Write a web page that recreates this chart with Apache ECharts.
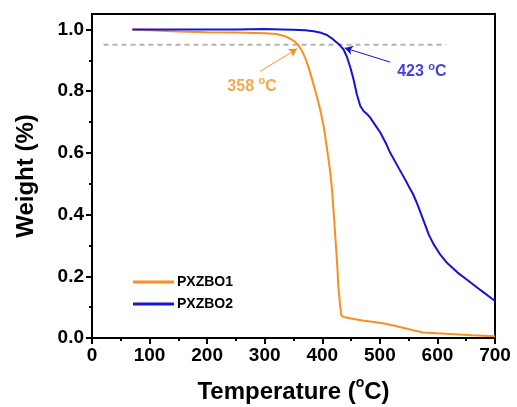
<!DOCTYPE html>
<html>
<head>
<meta charset="utf-8">
<script src="https://cdn.jsdelivr.net/npm/echarts@6/dist/echarts.min.js"></script>
<style>html,body{margin:0;padding:0;background:#fff}#c{width:517px;height:407px}</style>
</head>
<body>
<div id="c"></div>
<script>
const seriesNames = ['PXZBO1', 'PXZBO2'];
const tempPXZBO1 = [70, 100, 150, 200, 250, 300, 320, 335, 345, 352, 358, 365, 372, 379, 385, 391, 397, 403, 408, 413, 417, 420, 423, 426, 428, 431, 433, 437, 450, 470, 490, 505, 520, 540, 560, 575, 600, 630, 660, 700];
const weightPXZBO1 = [1.0, 0.997, 0.993, 0.991, 0.99, 0.988, 0.985, 0.978, 0.969, 0.961, 0.95, 0.93, 0.9, 0.86, 0.82, 0.78, 0.735, 0.68, 0.615, 0.55, 0.48, 0.4, 0.318, 0.235, 0.165, 0.105, 0.074, 0.068, 0.063, 0.057, 0.052, 0.048, 0.042, 0.033, 0.024, 0.018, 0.015, 0.012, 0.009, 0.006];
const tempPXZBO2 = [70, 150, 250, 300, 330, 350, 370, 385, 398, 408, 416, 423, 430, 437, 443, 449, 454, 460, 466, 472, 478, 483, 492, 501, 510, 518, 527, 536, 545, 552, 558, 566, 572, 578, 585, 593, 605, 617, 635, 652, 675, 700];
const weightPXZBO2 = [1.0, 1.0, 1.0, 1.001, 1.0, 0.999, 0.997, 0.994, 0.989, 0.982, 0.972, 0.961, 0.95, 0.935, 0.91, 0.875, 0.84, 0.79, 0.752, 0.735, 0.725, 0.715, 0.69, 0.665, 0.633, 0.6, 0.57, 0.54, 0.51, 0.485, 0.465, 0.43, 0.4, 0.37, 0.335, 0.305, 0.27, 0.243, 0.212, 0.188, 0.155, 0.12];
const thresholdTemps = [20, 615];
const thresholdWeight = 0.95;
const onsetLabels = ['358', '423'];
const arrowPXZBO1 = [[292, 0.864], [356, 0.937]];
const arrowPXZBO2 = [[518, 0.894], [439, 0.94]];
const labelPosPXZBO1 = [278, 0.815];
const labelPosPXZBO2 = [573, 0.862];
const yTicks = [0, 0.2, 0.4, 0.6, 0.8, 1.0];
const yMinorTicks = [0.1, 0.3, 0.5, 0.7, 0.9];

const ORANGE = '#F7901E';
const BLUE = '#1414D2';
const FONT = 'Liberation Sans, Arial, sans-serif';

const zip = (a, b) => a.map((v, i) => [v, b[i]]);
const supRich = (color, size, supSize, lh) => ({
  a: {fontFamily: FONT, fontWeight: 'bold', fontSize: size, color: color, lineHeight: lh},
  s: {fontFamily: FONT, fontWeight: 'bold', fontSize: supSize, color: color, verticalAlign: 'top', lineHeight: supSize + 2}
});

const chart = echarts.init(document.getElementById('c'), null, {renderer: 'canvas'});
const option = {
  animation: false,
  backgroundColor: '#fff',
  grid: {left: 92, right: 22, top: 14, bottom: 69, show: true, borderColor: '#000', borderWidth: 2, containLabel: false, outerBoundsMode: 'none'},
  legend: {
    data: seriesNames, orient: 'vertical', left: 128, top: 270, icon: 'rect', itemWidth: 41, itemHeight: 3, itemGap: 8,
    textStyle: {fontFamily: FONT, fontWeight: 'bold', fontSize: 14, color: '#000', padding: [0, 0, 0, -2]}
  },
  xAxis: {
    type: 'value', min: 0, max: 700, interval: 100,
    splitLine: {show: false},
    axisLine: {show: false},
    axisTick: {show: true, inside: false, length: 6, lineStyle: {color: '#000', width: 2}},
    minorTick: {show: true, splitNumber: 2, length: 3, lineStyle: {color: '#000', width: 2}},
    axisLabel: {fontFamily: FONT, fontWeight: 'bold', fontSize: 19, color: '#000', margin: 8},
    name: '{a|Temperature (}{s|o}{a|C)}', nameLocation: 'middle', nameGap: 38,
    nameTextStyle: {rich: supRich('#000', 24, 14, 32)}
  },
  yAxis: [{
    type: 'value', min: 0, max: 1.05,
    splitLine: {show: false},
    axisLine: {show: false},
    axisTick: {show: true, customValues: yTicks, length: 6, lineStyle: {color: '#000', width: 2}},
    axisLabel: {customValues: yTicks, fontFamily: FONT, fontWeight: 'bold', fontSize: 19, color: '#000', margin: 8,
      formatter: v => v.toFixed(1)},
    name: 'Weight (%)', nameLocation: 'middle', nameGap: 54,
    nameTextStyle: {fontFamily: FONT, fontWeight: 'bold', fontSize: 24, color: '#000'}
  }, {
    type: 'value', min: 0, max: 1.05, position: 'left',
    splitLine: {show: false}, axisLine: {show: false}, axisLabel: {show: false},
    axisTick: {show: true, customValues: yMinorTicks, length: 3, lineStyle: {color: '#000', width: 2}}
  }],
  series: [
    {
      name: 'threshold', type: 'line', data: thresholdTemps.map(t => [t, thresholdWeight]), symbol: 'none',
      lineStyle: {color: '#B4B4B4', width: 2, type: [5, 4]}, silent: true, z: 1
    },
    {
      name: seriesNames[0], type: 'line', data: zip(tempPXZBO1, weightPXZBO1), symbol: 'none',
      lineStyle: {color: ORANGE, width: 2}, itemStyle: {color: ORANGE}, z: 3,
      markLine: {
        silent: true, symbol: ['none', 'arrow'], symbolSize: [7, 8],
        lineStyle: {color: ORANGE, width: 1, type: 'solid'}, label: {show: false},
        data: [[{coord: arrowPXZBO1[0]}, {coord: arrowPXZBO1[1]}]]
      }
    },
    {
      name: seriesNames[1], type: 'line', data: zip(tempPXZBO2, weightPXZBO2), symbol: 'none',
      lineStyle: {color: BLUE, width: 2}, itemStyle: {color: BLUE}, z: 4,
      markLine: {
        silent: true, symbol: ['none', 'arrow'], symbolSize: [7, 8],
        lineStyle: {color: BLUE, width: 1, type: 'solid'}, label: {show: false},
        data: [[{coord: arrowPXZBO2[0]}, {coord: arrowPXZBO2[1]}]]
      }
    },
    {
      name: 'label1', type: 'scatter', data: [labelPosPXZBO1], symbolSize: 0, silent: true,
      label: {show: true, position: 'inside', formatter: '{a|' + onsetLabels[0] + ' }{s|o}{a|C}', rich: supRich(ORANGE, 16, 11, 22)}
    },
    {
      name: 'label2', type: 'scatter', data: [labelPosPXZBO2], symbolSize: 0, silent: true,
      label: {show: true, position: 'inside', formatter: '{a|' + onsetLabels[1] + ' }{s|o}{a|C}', rich: supRich(BLUE, 16, 11, 22)}
    }
  ]
};
chart.setOption(option);
</script>
</body>
</html>
